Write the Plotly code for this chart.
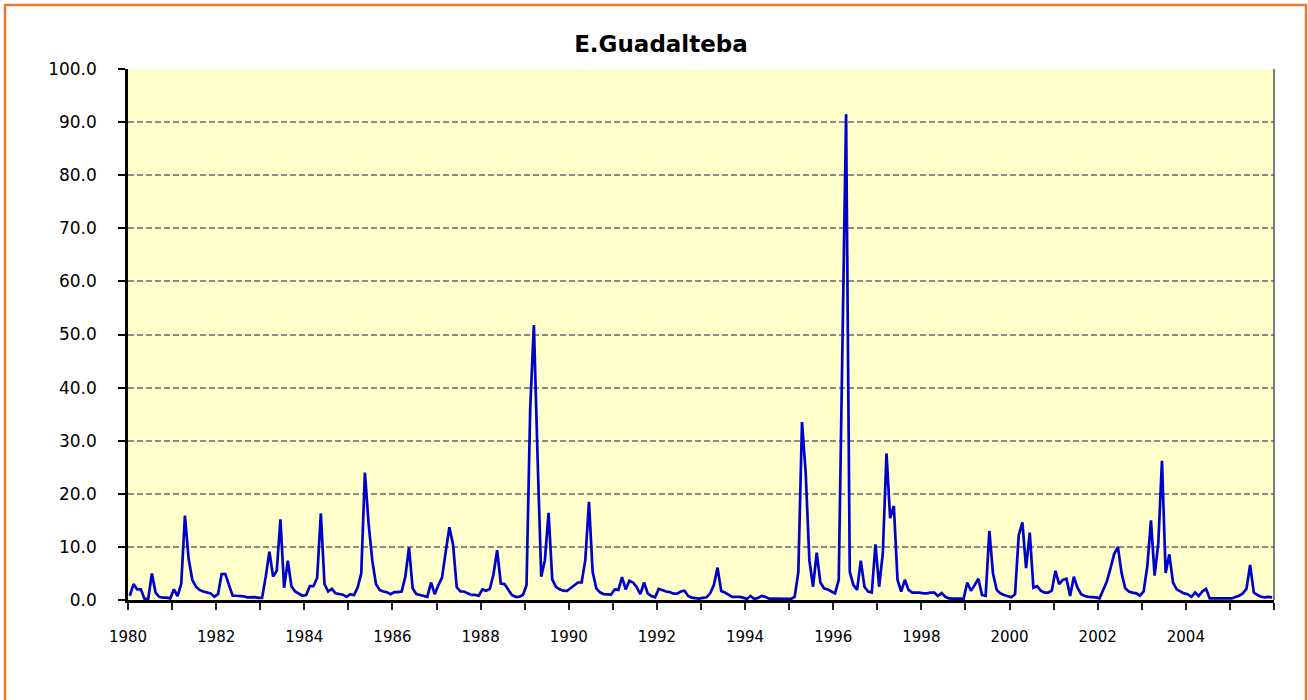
import plotly.graph_objects as go

# Monthly values (hm3), one list per year, Jan..Dec
y1980 = [0.8, 3.0, 2.0, 2.0, 0.2, 0.2, 5.0, 1.4, 0.6, 0.45, 0.45, 0.3]
y1981 = [2.0, 0.75, 3.1, 15.9, 7.8, 3.8, 2.5, 1.9, 1.6, 1.4, 1.25, 0.6]
y1982 = [1.1, 4.9, 4.9, 2.8, 0.8, 0.8, 0.8, 0.7, 0.5, 0.5, 0.55, 0.4]
y1983 = [0.4, 4.4, 9.1, 4.4, 5.5, 15.2, 2.3, 7.4, 2.6, 1.6, 1.25, 0.8]
y1984 = [0.95, 2.6, 2.6, 4.2, 16.3, 3.0, 1.6, 2.1, 1.25, 1.1, 1.0, 0.6]
y1985 = [1.1, 0.9, 2.3, 5.0, 24.0, 14.4, 7.5, 3.0, 1.9, 1.6, 1.45, 1.1]
y1986 = [1.5, 1.5, 1.6, 4.4, 9.9, 2.2, 1.1, 0.95, 0.75, 0.6, 3.3, 1.1]
y1987 = [2.8, 4.2, 9.1, 13.7, 10.4, 2.4, 1.6, 1.6, 1.25, 0.95, 0.95, 0.8]
y1988 = [2.0, 1.75, 2.1, 4.8, 9.4, 3.1, 3.0, 1.9, 0.95, 0.6, 0.6, 0.95]
y1989 = [2.8, 36.0, 51.8, 27.0, 4.4, 7.5, 16.4, 3.9, 2.5, 2.0, 1.75, 1.7]
y1990 = [2.2, 2.7, 3.3, 3.3, 7.5, 18.5, 5.3, 2.2, 1.45, 1.1, 1.1, 1.0]
y1991 = [2.0, 1.9, 4.3, 2.0, 3.6, 3.3, 2.4, 1.1, 3.3, 1.25, 0.75, 0.5]
y1992 = [2.1, 1.8, 1.6, 1.5, 1.2, 1.2, 1.6, 1.75, 0.75, 0.45, 0.3, 0.25]
y1993 = [0.4, 0.5, 1.25, 2.8, 6.1, 1.7, 1.4, 0.95, 0.6, 0.6, 0.6, 0.45]
y1994 = [0.2, 0.75, 0.2, 0.4, 0.75, 0.6, 0.25, 0.25, 0.25, 0.3, 0.3, 0.3]
y1995 = [0.2, 0.6, 5.3, 33.5, 24.0, 7.5, 2.5, 8.9, 3.3, 2.2, 2.0, 1.6]
y1996 = [1.25, 3.8, 45.0, 91.5, 5.3, 2.8, 1.9, 7.4, 2.5, 1.6, 1.4, 10.5]
y1997 = [2.5, 8.8, 27.6, 15.4, 17.7, 3.8, 1.6, 3.8, 1.9, 1.4, 1.4, 1.4]
y1998 = [1.25, 1.25, 1.4, 1.4, 0.75, 1.3, 0.6, 0.3, 0.25, 0.25, 0.25, 0.25]
y1999 = [3.3, 1.75, 2.8, 4.0, 0.95, 0.8, 13.0, 5.0, 1.9, 1.25, 0.95, 0.75]
y2000 = [0.5, 1.1, 12.2, 14.6, 6.0, 12.7, 2.3, 2.6, 1.75, 1.4, 1.4, 1.75]
y2001 = [5.5, 3.0, 3.8, 4.0, 0.75, 4.4, 2.3, 1.1, 0.75, 0.6, 0.6, 0.5]
y2002 = [0.3, 1.75, 3.5, 6.0, 8.7, 10.0, 5.1, 2.2, 1.6, 1.4, 1.25, 0.8]
y2003 = [1.6, 6.3, 15.0, 4.6, 10.7, 26.2, 5.1, 8.6, 3.3, 2.0, 1.6, 1.25]
y2004 = [1.1, 0.6, 1.4, 0.75, 1.6, 2.1, 0.3, 0.3, 0.3, 0.3, 0.3, 0.25]
y2005 = [0.3, 0.55, 0.8, 1.25, 2.1, 6.6, 1.4, 0.95, 0.6, 0.5, 0.6, 0.5]

years = list(range(1980, 2006))
series_by_year = [y1980, y1981, y1982, y1983, y1984, y1985, y1986, y1987, y1988,
                  y1989, y1990, y1991, y1992, y1993, y1994, y1995, y1996, y1997,
                  y1998, y1999, y2000, y2001, y2002, y2003, y2004, y2005]

tick_years = list(range(1980, 2007))
tick_labels = [str(y) if (y % 2 == 0 and y < 2006) else "" for y in tick_years]
y_ticks = [0, 10, 20, 30, 40, 50, 60, 70, 80, 90, 100]

title_text = "E.Guadalteba"

# Build x (mid-month positions in decimal years) and y
xs, ys = [], []
for yr, vals in zip(years, series_by_year):
    for m, v in enumerate(vals):
        xs.append(yr + (m + 0.5) / 12.0)
        ys.append(v)

FONT = "DejaVu Sans"

fig = go.Figure()
fig.add_trace(go.Scatter(
    x=xs, y=ys, mode="lines",
    line=dict(color="#0000CC", width=2.7),
    hoverinfo="x+y",
))

# plot-area geometry in pixels
L, R, T, B = 128, 1274, 69, 600
W, H = 1308, 700
pw, ph = R - L, B - T

def px_x(p):
    return (p - L) / pw

def px_y(p):
    return (B - p) / ph

fig.update_layout(
    width=W, height=H,
    margin=dict(l=L, r=W - R, t=T, b=H - B, pad=0),
    paper_bgcolor="white",
    plot_bgcolor="#FFFFCC",
    showlegend=False,
    font=dict(family=FONT, color="black"),
    title=dict(
        text="<b>" + title_text + "</b>",
        font=dict(family=FONT, size=23, color="black"),
        x=661 / W, xanchor="center", xref="container",
        y=1 - 44 / H, yanchor="middle", yref="container",
    ),
    xaxis=dict(
        range=[1980, 2006],
        tickmode="array", tickvals=tick_years, ticktext=tick_labels,
        ticks="outside", ticklen=7, tickwidth=1.5, tickcolor="#222222",
        showline=True, linecolor="black", linewidth=2.5,
        showgrid=False, zeroline=False,
        tickfont=dict(family=FONT, size=15, color="black"),
        ticklabelstandoff=14,
    ),
    yaxis=dict(
        range=[0, 100],
        tickmode="array", tickvals=y_ticks,
        tickformat=".1f",
        ticks="outside", ticklen=7, tickwidth=1.5, tickcolor="black",
        showline=True, linecolor="black", linewidth=2.5,
        showgrid=True, gridcolor="#8C8C8C", gridwidth=1.5, griddash="6px,3px",
        zeroline=False,
        tickfont=dict(family=FONT, size=17, color="black"),
        ticklabelstandoff=18,
    ),
    shapes=[
        # plot area frame (right edge)
        dict(type="line", xref="paper", yref="paper", x0=1, x1=1, y0=0, y1=1,
             line=dict(color="#505050", width=1.5), layer="above"),
        # outer orange frame
        dict(type="rect", xref="paper", yref="paper",
             x0=px_x(5), x1=px_x(1306), y0=px_y(706), y1=px_y(5),
             line=dict(color="#E97D2B", width=2.5), fillcolor="rgba(0,0,0,0)",
             layer="above"),
    ],
)

fig.write_html(
    "out.html",
    config={"displayModeBar": False},
    post_script="document.body.style.margin='0';document.body.style.overflow='hidden';",
)
